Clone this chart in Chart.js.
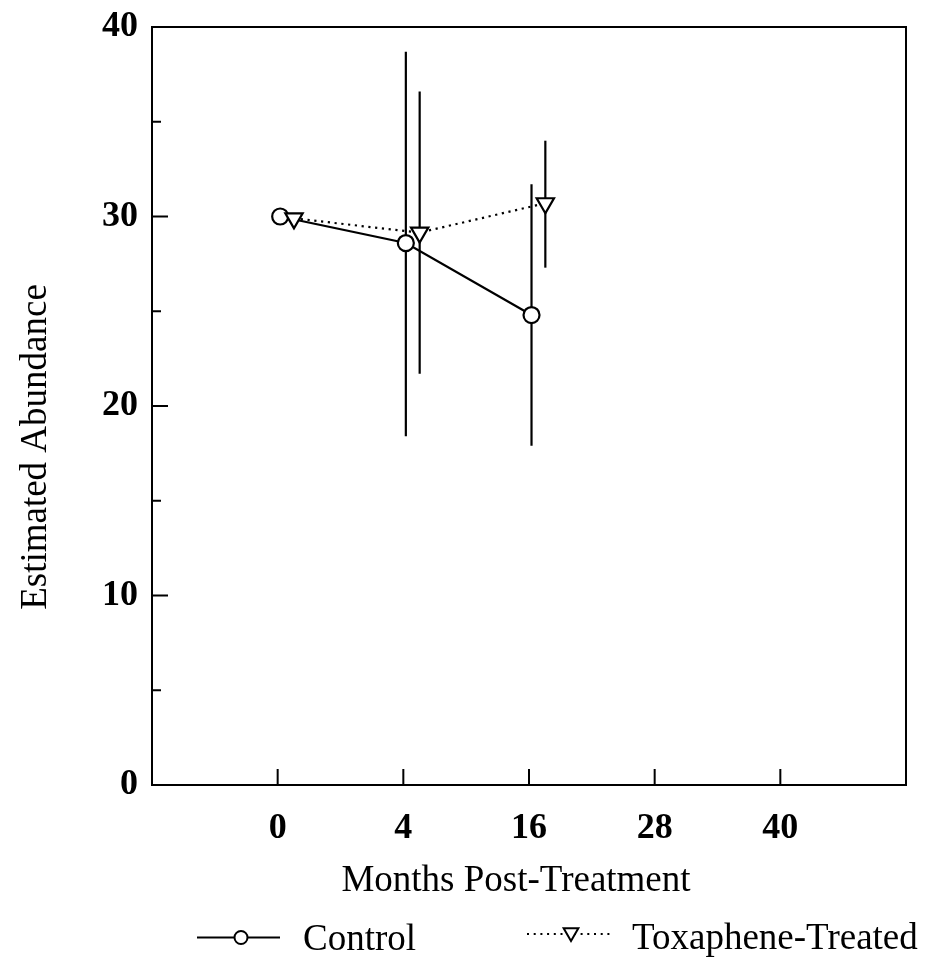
<!DOCTYPE html>
<html><head><meta charset="utf-8">
<script src="https://cdn.jsdelivr.net/npm/chart.js@4.4.0/dist/chart.umd.min.js"></script>
<style>html,body{margin:0;padding:0;background:#fff;overflow:hidden}</style>
</head><body>
<canvas id="c" width="933" height="957"></canvas>
<script>
// ---- data ----
const categories = ['0', '4', '16', '28', '40'];
const yMajorTicks = [0, 10, 20, 30, 40];
const yMinorTicks = [5, 15, 25, 35];
const controlMean = [30.0, 28.6, 24.8];
const controlLow = [null, 18.4, 17.9];
const controlHigh = [null, 38.7, 31.7];
const toxMean = [29.9, 29.15, 30.7];
const toxLow = [null, 21.7, 27.3];
const toxHigh = [null, 36.6, 34.0];
const seriesNames = ['Control', 'Toxaphene-Treated'];
const xTitle = 'Months Post-Treatment';
const yTitle = 'Estimated Abundance';

// ---- presentation ----
const controlOffset = 0.02;
const toxOffset = 0.13;
const SERIF = '"Liberation Serif", "Times New Roman", serif';

const controlPts = controlMean.map((v, i) => ({x: i + controlOffset, y: v}));
const toxPts = toxMean.map((v, i) => ({x: i + toxOffset, y: v}));

const errorBarPlugin = {
  id: 'errorBars',
  beforeDatasetsDraw(chart) {
    const {ctx, scales: {x, y}} = chart;
    const sets = [[controlLow, controlHigh, controlOffset], [toxLow, toxHigh, toxOffset]];
    ctx.save();
    ctx.strokeStyle = '#000';
    ctx.lineWidth = 2.2;
    sets.forEach(([lo, hi, off]) => {
      lo.forEach((l, i) => {
        if (l == null || hi[i] == null) return;
        const px = x.getPixelForValue(i + off);
        ctx.beginPath();
        ctx.moveTo(px, y.getPixelForValue(l));
        ctx.lineTo(px, y.getPixelForValue(hi[i]));
        ctx.stroke();
      });
    });
    ctx.restore();
  }
};

const framePlugin = {
  id: 'frame',
  afterDraw(chart) {
    const {ctx, chartArea: a, scales: {x, y}} = chart;
    ctx.save();
    ctx.strokeStyle = '#000';
    ctx.lineWidth = 2;
    ctx.strokeRect(a.left, a.top, a.right - a.left, a.bottom - a.top);
    ctx.beginPath();
    yMajorTicks.forEach(v => {
      const py = y.getPixelForValue(v);
      ctx.moveTo(a.left, py); ctx.lineTo(a.left + 16, py);
    });
    yMinorTicks.forEach(v => {
      const py = y.getPixelForValue(v);
      ctx.moveTo(a.left, py); ctx.lineTo(a.left + 9, py);
    });
    categories.forEach((c, i) => {
      const px = x.getPixelForValue(i);
      ctx.moveTo(px, a.bottom); ctx.lineTo(px, a.bottom - 16);
    });
    ctx.stroke();

    // axis titles
    ctx.fillStyle = '#000';
    ctx.font = '37px ' + SERIF;
    ctx.textAlign = 'center';
    ctx.textBaseline = 'alphabetic';
    ctx.fillText(xTitle, 516, 891);
    ctx.save();
    ctx.translate(46, 447);
    ctx.rotate(-Math.PI / 2);
    ctx.fillText(yTitle, 0, 0);
    ctx.restore();

    // legend
    ctx.textAlign = 'left';
    ctx.font = '37px ' + SERIF;
    // control
    ctx.lineWidth = 1.8;
    ctx.beginPath(); ctx.moveTo(197, 937.5); ctx.lineTo(280, 937.5); ctx.stroke();
    ctx.beginPath(); ctx.arc(241, 937.5, 6.5, 0, Math.PI * 2);
    ctx.fillStyle = '#fff'; ctx.fill(); ctx.lineWidth = 2; ctx.stroke();
    ctx.fillStyle = '#000';
    ctx.fillText(seriesNames[0], 303, 950);
    // toxaphene
    ctx.lineWidth = 2;
    ctx.setLineDash([2, 4.7]);
    ctx.beginPath(); ctx.moveTo(527, 934); ctx.lineTo(612, 934); ctx.stroke();
    ctx.setLineDash([]);
    const r = 8.5, cx = 571, cy = 932.5;
    ctx.beginPath();
    ctx.moveTo(cx - r * Math.sqrt(3) / 2, cy - r / 2);
    ctx.lineTo(cx + r * Math.sqrt(3) / 2, cy - r / 2);
    ctx.lineTo(cx, cy + r);
    ctx.closePath();
    ctx.fillStyle = '#fff'; ctx.fill(); ctx.stroke();
    ctx.fillStyle = '#000';
    ctx.fillText(seriesNames[1], 632, 949);
    ctx.restore();
  }
};

new Chart(document.getElementById('c'), {
  type: 'line',
  data: {
    datasets: [
      {
        label: seriesNames[1],
        data: toxPts,
        borderColor: '#000',
        borderWidth: 2.2,
        borderDash: [2.2, 4.6],
        pointStyle: 'triangle',
        pointRotation: 180,
        pointRadius: 10,
        pointHoverRadius: 10,
        pointBackgroundColor: '#fff',
        pointBorderColor: '#000',
        pointBorderWidth: 2.2,
        fill: false,
        tension: 0
      },
      {
        label: seriesNames[0],
        data: controlPts,
        borderColor: '#000',
        borderWidth: 2.2,
        pointStyle: 'circle',
        pointRadius: 8,
        pointHoverRadius: 8,
        pointBackgroundColor: '#fff',
        pointBorderColor: '#000',
        pointBorderWidth: 2.2,
        fill: false,
        tension: 0
      }
    ]
  },
  options: {
    responsive: false,
    animation: false,
    devicePixelRatio: 1,
    events: [],
    layout: {padding: {left: 0, top: 27, right: 27, bottom: 42}},
    plugins: {legend: {display: false}, tooltip: {enabled: false}},
    scales: {
      x: {
        type: 'linear',
        min: -1,
        max: 5,
        grid: {display: false, drawTicks: false},
        border: {display: false},
        afterBuildTicks: s => { s.ticks = categories.map((c, i) => ({value: i})); },
        afterFit: s => { s.height = 130; s.paddingLeft = 0; s.paddingRight = 0; },
        ticks: {
          autoSkip: false,
          maxRotation: 0,
          padding: 22,
          color: '#000',
          font: {family: SERIF, size: 36, weight: 'bold'},
          callback: v => categories[v]
        }
      },
      y: {
        min: 0,
        max: 40,
        grid: {display: false, drawTicks: false},
        border: {display: false},
        afterBuildTicks: s => { s.ticks = yMajorTicks.map(v => ({value: v})); },
        afterFit: s => { s.width = 152; s.paddingTop = 0; s.paddingBottom = 0; },
        ticks: {
          padding: 14,
          color: '#000',
          font: {family: SERIF, size: 36, weight: 'bold'}
        }
      }
    }
  },
  plugins: [errorBarPlugin, framePlugin]
});
</script>
</body></html>
